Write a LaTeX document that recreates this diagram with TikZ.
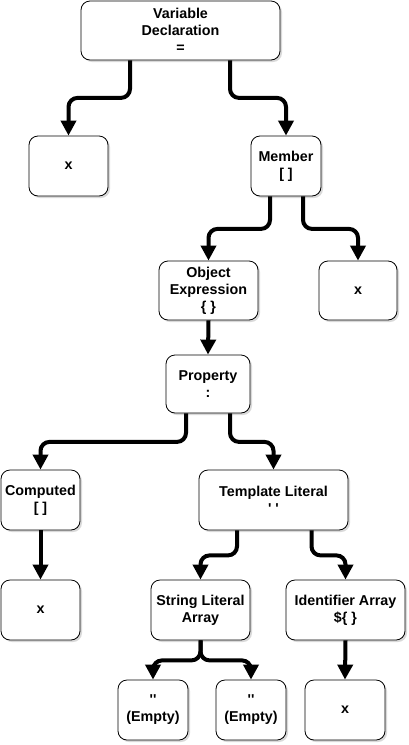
\documentclass[tikz,border=0pt]{standalone}
\usepackage{fontspec}
\setmainfont{Liberation Sans}
\usetikzlibrary{arrows.meta, shadows}

\begin{document}
\begin{tikzpicture}[x=1pt, y=-1pt]
	\tikzstyle{every node}=[draw, line width=0.8pt, rounded corners=9pt, fill=white, inner sep=0pt, align=center, font=\bfseries\fontsize{14.3}{17}\selectfont, drop shadow={shadow xshift=2pt, shadow yshift=-2pt, opacity=0.3}]
	\tikzstyle{edge}=[line width=4pt, rounded corners=9pt, -{Triangle[length=15pt, width=15pt]}]
	\useasboundingbox (0, 0) rectangle (409, 745);

	% variable declaration
	\node[minimum width=199pt, minimum height=59pt](Var_Decl) at (180.5, 30.5) {Variable\\Declaration\\=};

	% x, member
	\node[minimum width=79pt, minimum height=60pt](X_Var) at (68.5, 166) {x};
	\node[minimum width=70pt, minimum height=60pt](Member) at (286, 166) {Member\\{[ ]}};

	% object expression, x
	\node[minimum width=99pt, minimum height=59pt](Obj_Expr) at (208.5, 290.5) {Object\\Expression\\\{ \}};
	\node[minimum width=78pt, minimum height=59pt](X_Member) at (358, 290.5) {x};

	% property
	\node[minimum width=84pt, minimum height=58pt](Property) at (208, 384) {Property\\:};

	% computed, template literal
	\node[minimum width=79pt, minimum height=60pt](Computed) at (40.5, 500) {Computed\\{[ ]}};
	\node[minimum width=149pt, minimum height=60pt](Template_Lit) at (273.5, 500) {Template Literal\\\textquotesingle\ \textquotesingle};

	% x, string literal array, identifier array
	\node[minimum width=79pt, minimum height=60pt](X_Computed) at (40.5, 610) {x};
	\node[minimum width=99pt, minimum height=60pt](Str_Lit_Array) at (200.5, 610) {String Literal\\Array};
	\node[minimum width=119pt, minimum height=60pt](Ident_Array) at (345.5, 610) {Identifier Array\\\$\{ \}};

	% empty strings, x
	\node[minimum width=70pt, minimum height=60pt](Empty_1) at (153, 710) {\textquotesingle\textquotesingle\\(Empty)};
	\node[minimum width=70pt, minimum height=60pt](Empty_2) at (251, 710) {\textquotesingle\textquotesingle\\(Empty)};
	\node[minimum width=80pt, minimum height=60pt](X_Ident) at (345, 710) {x};

	% lines
	% variable declaration - x, member
	\draw[edge]([xshift=-50.5]Var_Decl.south)--++(0, 37.5)-|(X_Var.north);
	\draw[edge]([xshift=49.5]Var_Decl.south)--++(0, 37.5)-|(Member.north);

	% member - object expression, x
	\draw[edge]([xshift=-16]Member.south)--++(0, 32.5)-|(Obj_Expr.north);
	\draw[edge]([xshift=17]Member.south)--++(0, 32.5)-|(X_Member.north);

	% object expression - property
	\draw[edge](Obj_Expr.south)--(Property.north);

	% property - computed, template literal
	\draw[edge]([xshift=-22]Property.south)--++(0, 28.5)-|(Computed.north);
	\draw[edge]([xshift=22]Property.south)--++(0, 28.5)-|(Template_Lit.north);

	% computed - x
	\draw[edge](Computed.south)--(X_Computed.north);

	% template literal - string literal array, identifier array
	\draw[edge]([xshift=-36.5]Template_Lit.south)--++(0, 25)-|(Str_Lit_Array.north);
	\draw[edge]([xshift=38]Template_Lit.south)--++(0, 25)-|(Ident_Array.north);

	% string literal array - empty strings
	\draw[edge](Str_Lit_Array.south)--++(0, 20)-|(Empty_1.north);
	\draw[edge](Str_Lit_Array.south)--++(0, 20)-|(Empty_2.north);

	% identifier array - x
	\draw[edge](Ident_Array.south)--(X_Ident.north);
\end{tikzpicture}
\end{document}
